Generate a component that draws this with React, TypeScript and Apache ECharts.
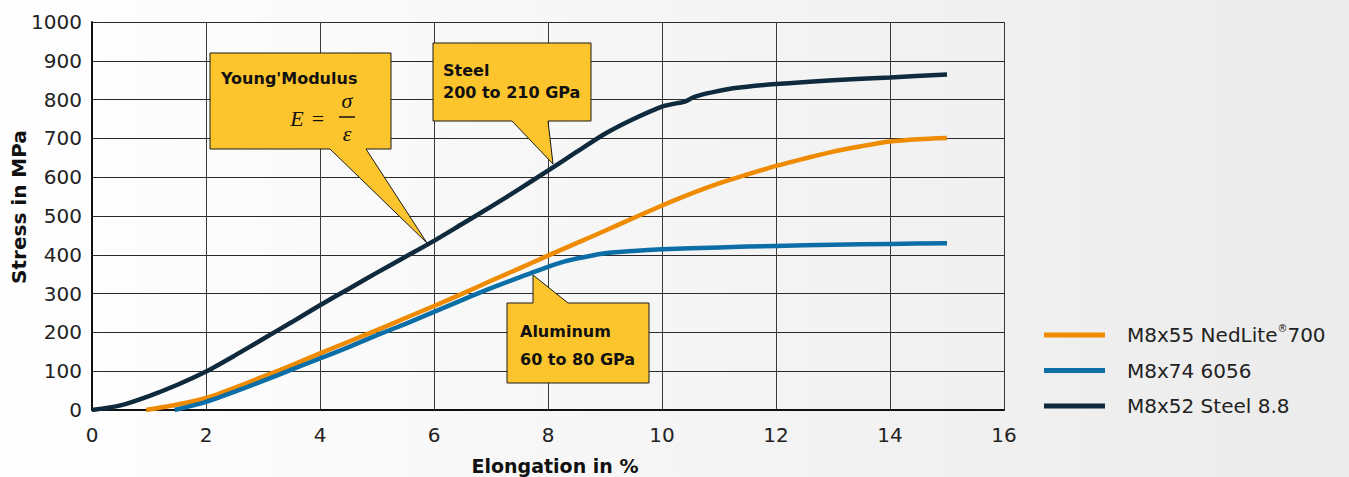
import React, { useEffect, useRef } from "react";
import * as echarts from "echarts";

const xTicks = [0, 16, 2];
const yTicks = [0, 1000, 100];

const seriesNames = ["M8x55 NedLite®700", "M8x74 6056", "M8x52 Steel 8.8"];
const seriesColors = ["#ef8b00", "#0b6ea6", "#0f2a3d"];

const nedliteData: number[][] = [
  [0.95, 0], [1.5, 14], [2, 31], [2.5, 57], [3, 86], [3.5, 115], [4, 146], [4.5, 176],
  [5, 206], [5.5, 237], [6, 268], [6.5, 300], [7, 333], [7.5, 365], [8, 398], [8.5, 430],
  [9, 462], [9.5, 495], [10, 527], [10.5, 557], [11, 584], [11.5, 607], [12, 629],
  [12.5, 648], [13, 666], [13.5, 680], [14, 692], [14.5, 698], [15, 701],
];

const aluData: number[][] = [
  [1.45, 0], [2, 21], [2.5, 47], [3, 75], [3.5, 104], [4, 133], [4.5, 162], [5, 193],
  [5.5, 222], [6, 253], [6.5, 284], [7, 314], [7.5, 342], [8, 369], [8.3, 383],
  [8.6, 393], [9, 404], [9.5, 410], [10, 414], [11, 419], [12, 423], [13, 426],
  [14, 428], [15, 430],
];

const steelData: number[][] = [
  [0, 0], [0.5, 12], [1, 36], [1.5, 65], [2, 99], [2.5, 140], [3, 183], [3.5, 226],
  [4, 270], [4.5, 312], [5, 354], [5.5, 395], [6, 436], [6.5, 480], [7, 524], [7.5, 570],
  [8, 617], [8.5, 665], [9, 712], [9.5, 750], [10, 782], [10.2, 789], [10.4, 795],
  [10.55, 806], [10.7, 813], [10.85, 818], [11.25, 829], [12, 840], [13, 850],
  [14, 857], [15, 865],
];

const seriesData = [nedliteData, aluData, steelData];

const yAxisTitle = "Stress in MPa";
const xAxisTitle = "Elongation in %";

const FONT = '"DejaVu Sans", sans-serif';
const YELLOW = "#fcc42d";
const EDGE = "#1a1a1a";

export default function App() {
  const ref = useRef<HTMLDivElement>(null);

  useEffect(() => {
    if (!ref.current) return;
    const chart = echarts.init(ref.current, null, { renderer: "svg" });

    const series = [1, 0, 2].map((i) => ({
      name: seriesNames[i],
      type: "line",
      data: seriesData[i],
      showSymbol: false,
      smooth: 0.25,
      lineStyle: { color: seriesColors[i], width: 4.5 },
      itemStyle: { color: seriesColors[i] },
      z: 3 + i,
    }));

    const calloutText = (t: string, x: number, y: number) => ({
      type: "text",
      x,
      y,
      z: 101,
      style: {
        text: t,
        fill: "#111",
        font: `bold 16px ${FONT}`,
        textVerticalAlign: "middle",
      },
    });

    const serif = (t: string, x: number, y: number, italic: boolean) => ({
      type: "text",
      x,
      y,
      z: 101,
      style: {
        text: t,
        fill: "#111",
        font: `${italic ? "italic " : ""}22px "Liberation Serif", "DejaVu Serif", serif`,
        textAlign: "center",
        textVerticalAlign: "middle",
      },
    });

    chart.setOption({
      animation: false,
      grid: {
        left: 92,
        right: 345,
        top: 22,
        bottom: 67,
        containLabel: false,
        outerBoundsMode: "none",
      },
      xAxis: {
        type: "value",
        min: xTicks[0],
        max: xTicks[1],
        interval: xTicks[2],
        name: xAxisTitle,
        nameLocation: "middle",
        nameGap: 46,
        nameTextStyle: {
          fontFamily: FONT,
          fontWeight: "bold",
          fontSize: 19,
          color: "#111",
          padding: [0, 0, 0, 14],
        },
        axisLine: { show: true, lineStyle: { color: "#111", width: 2 } },
        axisTick: { show: false },
        axisLabel: {
          fontFamily: FONT,
          fontSize: 20,
          color: "#222",
          margin: 15,
          formatter: (v: number) => String(v),
        },
        splitLine: { show: true, lineStyle: { color: "#3a3a3a", width: 1 } },
      },
      yAxis: {
        type: "value",
        min: yTicks[0],
        max: yTicks[1],
        interval: yTicks[2],
        axisLine: { show: true, lineStyle: { color: "#111", width: 2 } },
        axisTick: { show: false },
        axisLabel: {
          fontFamily: FONT,
          fontSize: 20,
          color: "#222",
          margin: 10,
          formatter: (v: number) => String(v),
        },
        splitLine: { show: true, lineStyle: { color: "#2a2a2a", width: 1 } },
      },
      legend: {
        orient: "vertical",
        left: 1044,
        top: 323,
        padding: 0,
        itemWidth: 61,
        itemHeight: 5,
        itemGap: 15.5,
        icon: "rect",
        data: seriesNames,
        formatter: (name: string) =>
          name === seriesNames[0]
            ? "{a|M8x55 NedLite}{r|®}{a|700}"
            : `{a|${name}}`,
        textStyle: {
          padding: [0, 0, 0, 17],
          rich: {
            a: { fontFamily: FONT, fontSize: 20, color: "#222", lineHeight: 24 },
            r: { fontFamily: FONT, fontSize: 10, color: "#222", lineHeight: 24, verticalAlign: "top" },
          },
        },
      },
      series,
      graphic: [
        {
          type: "text",
          x: 19,
          y: 207,
          rotation: Math.PI / 2,
          z: 101,
          style: {
            text: yAxisTitle,
            fill: "#111",
            font: `bold 20px ${FONT}`,
            textAlign: "center",
            textVerticalAlign: "middle",
          },
        },
        {
          type: "polygon",
          z: 100,
          shape: {
            points: [[210, 53], [391, 53], [391, 149], [366, 149], [427, 243], [330, 149], [210, 149]],
          },
          style: { fill: YELLOW, stroke: EDGE, lineWidth: 1 },
        },
        calloutText("Young'Modulus", 221, 78),
        serif("E", 297, 118, true),
        serif("=", 318, 118, false),
        serif("σ", 347, 100, true),
        {
          type: "line",
          z: 101,
          shape: { x1: 339, y1: 117, x2: 355, y2: 117 },
          style: { stroke: "#111", lineWidth: 1.5 },
        },
        serif("ε", 347, 133, true),
        {
          type: "polygon",
          z: 100,
          shape: {
            points: [[433, 43], [591, 43], [591, 121], [548, 121], [553, 164], [512, 121], [433, 121]],
          },
          style: { fill: YELLOW, stroke: EDGE, lineWidth: 1 },
        },
        calloutText("Steel", 443, 70),
        calloutText("200 to 210 GPa", 443, 92),
        {
          type: "polygon",
          z: 100,
          shape: {
            points: [[507, 303], [533, 303], [533, 275], [568, 303], [649, 303], [649, 383], [507, 383]],
          },
          style: { fill: YELLOW, stroke: EDGE, lineWidth: 1 },
        },
        calloutText("Aluminum", 520, 331),
        calloutText("60 to 80 GPa", 520, 359),
      ],
    });

    return () => chart.dispose();
  }, []);

  return (
    <div
      style={{
        position: "absolute",
        left: 0,
        top: 0,
        width: 1349,
        height: 477,
        background: "linear-gradient(to right, #ffffff 0%, #f6f6f6 45%, #ebebeb 100%)",
      }}
    >
      <div ref={ref} style={{ width: 1349, height: 477 }} />
    </div>
  );
}
